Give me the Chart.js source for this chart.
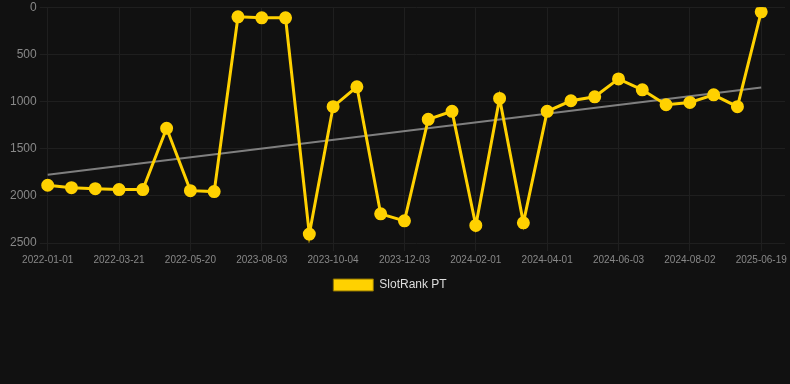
<!DOCTYPE html>
<html lang="en">
<head>
<meta charset="UTF-8">
<title>SlotRank PT</title>
<script src="https://cdn.jsdelivr.net/npm/chart.js"></script>
<style>
  html, body { margin: 0; padding: 0; background: #111111; }
  #wrap { position: relative; width: 790px; height: 301px; }
</style>
</head>
<body>
<div id="wrap"><canvas id="rankChart"></canvas></div>
<script>
// dates (every third one is printed on the axis), last slot left empty
const labels = [
    '2022-01-01', '2022-01-27', '2022-02-22', '2022-03-21', '2022-04-10', '2022-04-30',
    '2022-05-20', '2022-09-15', '2023-01-10', '2023-08-03', '2023-08-24', '2023-09-13',
    '2023-10-04', '2023-10-24', '2023-11-13', '2023-12-03', '2023-12-23', '2024-01-12',
    '2024-02-01', '2024-02-21', '2024-03-12', '2024-04-01', '2024-04-22', '2024-05-13',
    '2024-06-03', '2024-06-23', '2024-07-13', '2024-08-02', '2024-12-01', '2025-03-10',
    '2025-06-19', ''
];

const rankValues = [
    1888, 1913, 1924, 1934, 1934, 1284, 1945, 1955, 102, 113, 113, 2405,
    1055, 844, 2191, 2265, 1189, 1104, 2314, 967, 2286, 1104, 992, 950,
    760, 876, 1034, 1010, 929, 1055, 49, null
];

// trend line: only the two ends, joined by the library
const trendValues = labels.map(() => null);
trendValues[0] = 1776;
trendValues[30] = 851;

const yTicks = [0, 500, 1000, 1500, 2000, 2500];

const gold = '#ffd100';

// nudge the legend a few px left, like the original
const legendShift = {
    id: 'legendShift',
    afterLayout(chart) {
        if (chart.legend) {
            chart.legend.left -= 6;
            chart.legend.right -= 6;
        }
    }
};

const ctx = document.getElementById('rankChart').getContext('2d');
new Chart(ctx, {
    type: 'line',
    data: {
        labels: labels,
        datasets: [
            {
                label: 'SlotRank PT',
                data: rankValues,
                borderColor: gold,
                backgroundColor: gold,
                borderWidth: 3,
                pointRadius: 5,
                pointHoverRadius: 6,
                pointBackgroundColor: gold,
                pointBorderColor: gold,
                tension: 0,
                fill: false
            },
            {
                label: 'trend',
                data: trendValues,
                borderColor: 'rgba(140,140,140,0.9)',
                borderWidth: 2,
                pointRadius: 0,
                spanGaps: true,
                fill: false
            }
        ]
    },
    options: {
        responsive: true,
        maintainAspectRatio: false,
        animation: false,
        layout: { autoPadding: false, padding: { left: 7, right: 5 } },
        plugins: {
            legend: {
                position: 'bottom',
                labels: {
                    color: '#dddddd',
                    boxWidth: 40,
                    boxHeight: 12,
                    font: { family: 'Arial, Liberation Sans', size: 12 },
                    generateLabels: chart => {
                        const items = Chart.defaults.plugins.legend.labels.generateLabels(chart);
                        return items.filter(it => it.datasetIndex === 0).map(it => {
                            it.lineWidth = 1;
                            it.strokeStyle = '#8a7000';
                            return it;
                        });
                    }
                }
            },
            tooltip: { enabled: false }
        },
        scales: {
            x: {
                ticks: {
                    autoSkip: false,
                    maxRotation: 0,
                    color: '#888888',
                    font: { family: 'Arial, Liberation Sans', size: 10 },
                    callback: function (val, i) { return i % 3 === 0 ? this.getLabelForValue(val) : ''; }
                },
                grid: {
                    color: c => (c.index % 3 === 0 && c.index < 31) ? '#1f1f1f' : 'rgba(0,0,0,0)'
                },
                border: { display: false }
            },
            y: {
                reverse: true,
                min: 0,
                max: 2500,
                afterBuildTicks: axis => { axis.ticks = yTicks.map(v => ({ value: v })); },
                ticks: {
                    color: '#888888',
                    font: { family: 'Arial, Liberation Sans', size: 12, lineHeight: 0.7 },
                    callback: v => String(v)
                },
                grid: { color: '#1f1f1f' },
                border: { display: false }
            }
        }
    },
    plugins: [legendShift]
});
</script>
</body>
</html>
